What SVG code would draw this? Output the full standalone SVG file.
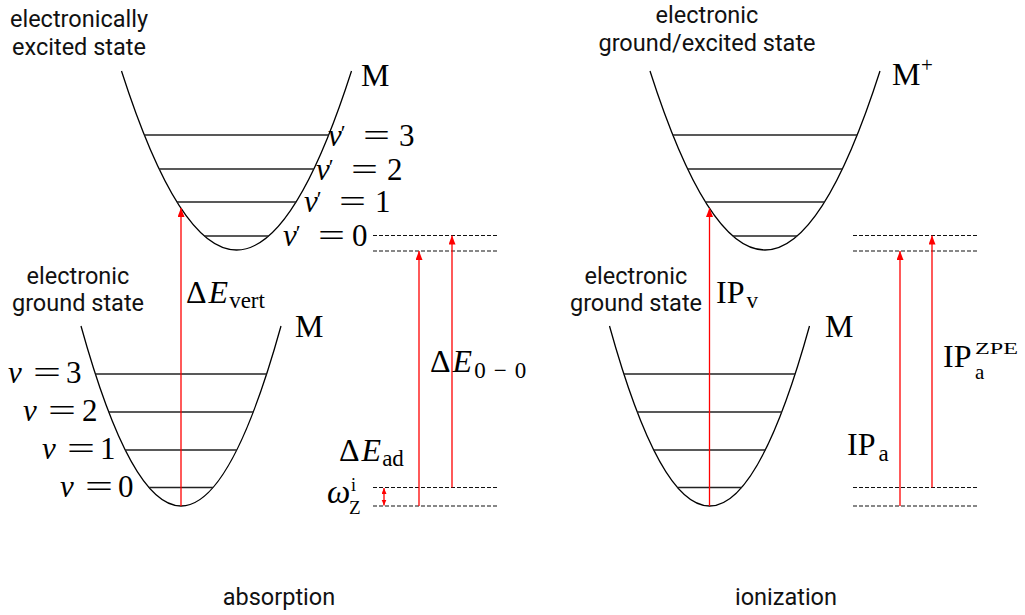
<svg xmlns="http://www.w3.org/2000/svg" width="1025" height="615" viewBox="0 0 1025 615">
<defs>
<style>
.curve{fill:none;stroke:#000;stroke-width:1.3}
.lvl{stroke:#222;stroke-width:1.3}
.dash{stroke:#111;stroke-width:1.1;stroke-dasharray:4 2}
.red{stroke:#f00;stroke-width:1.3;fill:none}
.sans{font-family:Roboto,"Liberation Sans",sans-serif;font-size:23.5px;fill:#111;text-anchor:middle}
.math{font-family:"Liberation Serif","DejaVu Serif",serif;font-size:32px;fill:#000}
.it{font-style:italic}
.sub{font-size:23px}
</style>
<marker id="ah" markerWidth="10" markerHeight="8" refX="9" refY="3.5" orient="auto" markerUnits="userSpaceOnUse">
<path d="M0,0 L9,3.5 L0,7 z" fill="#f00"/>
</marker>
<marker id="ahs" markerWidth="8" markerHeight="6" refX="6" refY="2.5" orient="auto-start-reverse" markerUnits="userSpaceOnUse">
<path d="M0,0 L6,2.5 L0,5 z" fill="#f00"/>
</marker>
</defs>
<rect width="1025" height="615" fill="#fff"/>

<g id="abs-excited-well">
<path class="curve" d="M121.5 71 Q236.5 429 351.5 71"/>
<line class="lvl" x1="144.3" y1="135" x2="328.7" y2="135"/>
<line class="lvl" x1="159.1" y1="169" x2="313.9" y2="169"/>
<line class="lvl" x1="176.9" y1="202" x2="296.1" y2="202"/>
<line class="lvl" x1="204.3" y1="236" x2="268.7" y2="236"/>
</g>
<g id="abs-ground-well">
<path class="curve" d="M81 326 Q181 686 281 326"/>
<line class="lvl" x1="95.4" y1="374" x2="266.6" y2="374"/>
<line class="lvl" x1="108.7" y1="412" x2="253.3" y2="412"/>
<line class="lvl" x1="125.2" y1="450" x2="236.8" y2="450"/>
<line class="lvl" x1="148.9" y1="487.5" x2="213.1" y2="487.5"/>
</g>
<g id="ion-excited-well">
<path class="curve" d="M650 71 Q765 429 880 71"/>
<line class="lvl" x1="672.8" y1="135" x2="857.2" y2="135"/>
<line class="lvl" x1="687.6" y1="169" x2="842.4" y2="169"/>
<line class="lvl" x1="705.4" y1="202" x2="824.6" y2="202"/>
<line class="lvl" x1="732.8" y1="236" x2="797.2" y2="236"/>
</g>
<g id="ion-ground-well">
<path class="curve" d="M609.5 326 Q709.5 686 809.5 326"/>
<line class="lvl" x1="623.9" y1="374" x2="795.1" y2="374"/>
<line class="lvl" x1="637.2" y1="412" x2="781.8" y2="412"/>
<line class="lvl" x1="653.7" y1="450" x2="765.3" y2="450"/>
<line class="lvl" x1="677.4" y1="487.5" x2="741.6" y2="487.5"/>
</g>
<g id="dashed-levels">
<line class="dash" x1="373" y1="235.5" x2="497" y2="235.5"/>
<line class="dash" x1="373" y1="251" x2="497" y2="251"/>
<line class="dash" x1="373" y1="487.5" x2="497" y2="487.5"/>
<line class="dash" x1="373" y1="506" x2="497" y2="506"/>
<line class="dash" x1="853" y1="235.5" x2="978" y2="235.5"/>
<line class="dash" x1="853" y1="251" x2="978" y2="251"/>
<line class="dash" x1="853" y1="487.5" x2="978" y2="487.5"/>
<line class="dash" x1="853" y1="506" x2="978" y2="506"/>
</g>
<g id="connectors">
<line class="red" x1="181" y1="506" x2="181" y2="208" marker-end="url(#ah)"/>
<line class="red" x1="419" y1="506" x2="419" y2="251" marker-end="url(#ah)"/>
<line class="red" x1="452" y1="487.5" x2="452" y2="235.5" marker-end="url(#ah)"/>
<line class="red" x1="384" y1="488" x2="384" y2="505.5" marker-start="url(#ahs)" marker-end="url(#ahs)"/>
<line class="red" x1="709.5" y1="506" x2="709.5" y2="208" marker-end="url(#ah)"/>
<line class="red" x1="900" y1="506" x2="900" y2="251" marker-end="url(#ah)"/>
<line class="red" x1="932" y1="487.5" x2="932" y2="235.5" marker-end="url(#ah)"/>
</g>

<g id="sans-labels">
<text class="sans" x="79" y="27">electronically</text>
<text class="sans" x="79" y="55">excited state</text>
<text class="sans" x="78" y="284">electronic</text>
<text class="sans" x="78" y="311">ground state</text>
<text class="sans" x="707" y="23">electronic</text>
<text class="sans" x="707" y="51">ground/excited state</text>
<text class="sans" x="636" y="284">electronic</text>
<text class="sans" x="636" y="311">ground state</text>
<text class="sans" x="279" y="605">absorption</text>
<text class="sans" x="786" y="605">ionization</text>
</g>

<g id="math-labels" class="math">
<text x="361" y="86">M</text>
<text x="328" y="146" font-size="31"><tspan class="it">v</tspan><tspan dx="-1" dy="-6" font-size="22">′</tspan></text><text x="363" y="146" textLength="27" lengthAdjust="spacingAndGlyphs">=</text><text x="399" y="146" font-size="31">3</text>
<text x="316" y="180" font-size="31"><tspan class="it">v</tspan><tspan dx="-1" dy="-6" font-size="22">′</tspan></text><text x="351" y="180" textLength="27" lengthAdjust="spacingAndGlyphs">=</text><text x="387" y="180" font-size="31">2</text>
<text x="304" y="212" font-size="31"><tspan class="it">v</tspan><tspan dx="-1" dy="-6" font-size="22">′</tspan></text><text x="339" y="212" textLength="27" lengthAdjust="spacingAndGlyphs">=</text><text x="375" y="212" font-size="31">1</text>
<text x="283" y="246" font-size="31"><tspan class="it">v</tspan><tspan dx="-1" dy="-6" font-size="22">′</tspan></text><text x="318" y="246" textLength="27" lengthAdjust="spacingAndGlyphs">=</text><text x="352" y="246" font-size="31">0</text>
<text x="186" y="303">Δ<tspan class="it" dx="2">E</tspan><tspan class="sub" dx="1" dy="5">vert</tspan></text>
<text x="295" y="337">M</text>
<text x="8" y="383" class="it" font-size="31">v</text><text x="33" y="383" textLength="28" lengthAdjust="spacingAndGlyphs">=</text><text x="66" y="383" font-size="31">3</text>
<text x="23" y="421" class="it" font-size="31">v</text><text x="48" y="421" textLength="28" lengthAdjust="spacingAndGlyphs">=</text><text x="82" y="421" font-size="31">2</text>
<text x="42" y="459" class="it" font-size="31">v</text><text x="67" y="459" textLength="28" lengthAdjust="spacingAndGlyphs">=</text><text x="100" y="459" font-size="31">1</text>
<text x="60" y="497" class="it" font-size="31">v</text><text x="85" y="497" textLength="28" lengthAdjust="spacingAndGlyphs">=</text><text x="118" y="497" font-size="31">0</text>
<text x="430" y="372">Δ<tspan class="it" dx="2">E</tspan><tspan class="sub" dx="2" dy="6" textLength="52" lengthAdjust="spacing">0−0</tspan></text>
<text x="339" y="461">Δ<tspan class="it" dx="2">E</tspan><tspan class="sub" dx="1" dy="5">ad</tspan></text>
<text x="327" y="503" class="it" font-size="33">ω</text><text x="351" y="491" font-size="18">i</text><text x="349" y="514" font-size="19">Z</text>
<text x="892" y="85">M</text><text x="921" y="72" font-size="21">+</text>
<text x="716" y="303">IP<tspan class="sub" dx="2" dy="5">v</tspan></text>
<text x="825" y="337">M</text>
<text x="847" y="455">IP<tspan class="sub" dx="3" dy="6">a</tspan></text>
<text x="943" y="367">IP</text><text x="975" y="354" font-size="17" textLength="43" lengthAdjust="spacingAndGlyphs">ZPE</text><text x="975" y="379" font-size="21">a</text>
</g>
</svg>
